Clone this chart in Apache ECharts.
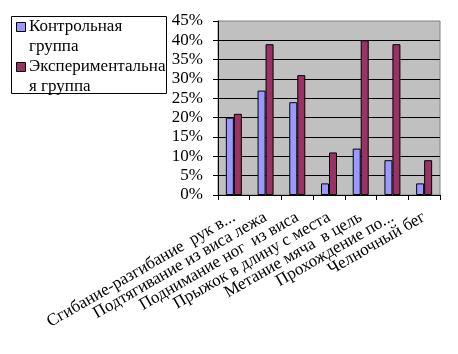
<!DOCTYPE html>
<html>
<head>
<meta charset="utf-8">
<script src="https://cdn.jsdelivr.net/npm/echarts@6/dist/echarts.min.js"></script>
<style>
  html, body { margin: 0; padding: 0; background: #fff; }
  #chart { width: 458px; height: 354px; }
</style>
</head>
<body>
<div id="chart"></div>
<script>
// категории (подписи как на исходной диаграмме)
var categories = [
  'Сгибание-разгибание  рук в...',
  'Подтягивание из виса лежа',
  'Поднимание ног  из виса',
  'Прыжок в длину с места',
  'Метание мяча  в цель',
  'Прохождение по...',
  'Челночный бег'
];
var seriesNames = ['Контрольная группа', 'Экспериментальная группа'];
var legendLabels = ['Контрольная\nгруппа', 'Экспериментальна\nя группа'];
var controlValues = [20, 27, 24, 3, 12, 9, 3];
var experimentValues = [21, 39, 31, 11, 40, 39, 9];
var colors = ['#9999ff', '#993366'];

var font = 'Liberation Serif';
var chart = echarts.init(document.getElementById('chart'));

var legendText = { fontFamily: font, fontSize: 17, fontWeight: 'normal', lineHeight: 19.5, color: '#000' };

var option = {
  backgroundColor: '#fff',
  animation: false,
  textStyle: { fontFamily: font, color: '#000' },
  // подписи легенды (рамка и значки — в graphic)
  title: [
    { text: legendLabels[0], left: 29, top: 17, padding: 0, textStyle: legendText },
    { text: legendLabels[1], left: 29, top: 57, padding: 0, textStyle: legendText }
  ],
  grid: {
    left: 218, right: 18, top: 21, bottom: 159,
    show: true, backgroundColor: '#c0c0c0', borderColor: '#808080', borderWidth: 1
  },
  xAxis: {
    type: 'category',
    data: categories,
    axisLine: { lineStyle: { color: '#000', width: 1 } },
    axisTick: { show: true, length: 5, lineStyle: { color: '#000' } },
    axisLabel: { rotate: 30, margin: 21, fontSize: 17, fontFamily: font, color: '#000', interval: 0 }
  },
  yAxis: {
    type: 'value',
    min: 0, max: 45, interval: 5,
    axisLine: { show: true, lineStyle: { color: '#000', width: 1 } },
    axisTick: { show: true, length: 5, lineStyle: { color: '#000' } },
    axisLabel: { formatter: '{value}%', margin: 15, fontSize: 17, fontFamily: font, color: '#000' },
    splitLine: { show: true, showMaxLine: false, lineStyle: { color: '#000', width: 1 } }
  },
  series: [
    {
      name: seriesNames[0], type: 'bar', data: controlValues,
      barWidth: 8, barGap: '0%',
      itemStyle: { color: colors[0], borderColor: '#000', borderWidth: 1 }
    },
    {
      name: seriesNames[1], type: 'bar', data: experimentValues,
      barWidth: 8, barGap: '0%',
      itemStyle: { color: colors[1], borderColor: '#000', borderWidth: 1 }
    }
  ],
  graphic: [
    { type: 'rect', z: -1, shape: { x: 11.5, y: 16.5, width: 155, height: 77 },
      style: { fill: '#fff', stroke: '#000', lineWidth: 1 } },
    { type: 'rect', shape: { x: 16.5, y: 22.5, width: 9, height: 9 },
      style: { fill: colors[0], stroke: '#000', lineWidth: 1 } },
    { type: 'rect', shape: { x: 16.5, y: 62.5, width: 9, height: 9 },
      style: { fill: colors[1], stroke: '#000', lineWidth: 1 } }
  ]
};
chart.setOption(option);
</script>
</body>
</html>
